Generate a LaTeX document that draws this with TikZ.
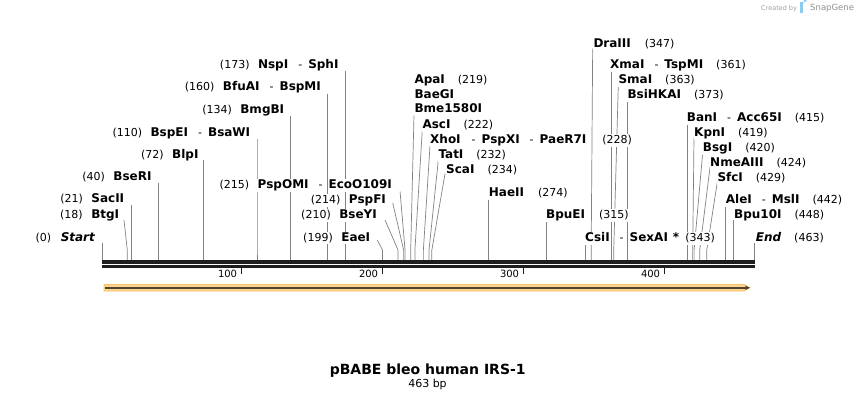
\documentclass[tikz,border=0pt]{standalone}
\usepackage{fontspec}
\setmainfont{DejaVu Sans}[BoldFont=DejaVu Sans Bold,ItalicFont=DejaVu Sans Oblique,BoldItalicFont=DejaVu Sans Bold Oblique]
\usetikzlibrary{arrows.meta}
\definecolor{leadgray}{RGB}{130,130,130}
\definecolor{bbcol}{RGB}{30,30,30}
\definecolor{orfill}{RGB}{252,213,142}
\definecolor{ordraw}{RGB}{246,192,104}
\definecolor{orline}{RGB}{80,66,46}
\definecolor{sgblue}{RGB}{140,203,239}
\definecolor{sggray}{RGB}{160,160,160}
\newcommand\wb[1]{\hspace{-0.6pt}{\setlength\fboxsep{0.6pt}\colorbox{white}{\rule[-2.6pt]{0pt}{11.4pt}#1}}\hspace{-0.6pt}}
\newcommand\pp[1]{\wb{\fontsize{11}{13}\selectfont(#1)}}
\newcommand\nn[1]{\wb{\bfseries #1}}
\newcommand\nmi[1]{\wb{\bfseries\itshape #1}}
\newcommand\dd{\hspace{10pt}\wb{\fontsize{11}{13}\selectfont-}\hspace{6pt}}
\newcommand\ga{\hspace{8.5pt}}
\newcommand\gb{\hspace{13pt}}
\newcommand\site[5]{%
  \coordinate (b#1) at ({101.9+1.41*#2},260);
  \coordinate (k#1) at ({101.9+1.41*#2},#5);
  \coordinate (t#1) at ({101.9+1.41*#2+#3},#4);
  \draw[leader] (t#1) -- (k#1) -- (b#1);}
\tikzset{
  leader/.style={draw=leadgray,line width=0.7pt},
  lbl/.style={inner sep=0pt,font=\fontsize{12}{14}\selectfont},
  ticklbl/.style={inner sep=0pt,font=\fontsize{10}{12}\selectfont},
  tickmark/.style={draw=bbcol,line width=1.6pt},
}
\begin{document}
\begin{tikzpicture}[x=1pt,y=-1pt]
\useasboundingbox (0,0) rectangle (858,400);
% leaders
\site{Start}{0}{0}{243}{250}
\site{BtgI}{18}{-3.3}{220}{250}
\site{SacII}{21}{0}{205}{250}
\site{BseRI}{40}{0}{183}{250}
\site{BlpI}{72}{0}{160}{250}
\site{BspEI}{110}{0}{139}{250}
\site{BmgBI}{134}{0}{116}{250}
\site{BfuAI}{160}{0}{94}{250}
\site{NspI}{173}{0}{71}{250}
\site{EaeI}{199}{-5.2}{240}{250}
\site{BseYI}{210}{-13}{220}{250}
\site{PspFI}{214}{-10.9}{203}{250}
\site{PspOMI}{215}{-5}{191.5}{250}
\site{ApaI}{219}{3.3}{115}{250}
\site{AscI}{222}{7.4}{129.5}{250}
\site{XhoI}{228}{6.6}{146}{250}
\site{TatI}{232}{9.3}{160}{250}
\site{ScaI}{234}{13.2}{173.5}{250}
\site{HaeII}{274}{0}{198}{250}
\site{BpuEI}{315}{0}{221}{250}
\site{CsiI}{343}{0}{243}{250}
\site{DraIII}{347}{1.5}{48.5}{250}
\site{XmaI}{361}{0}{70.5}{250}
\site{SmaI}{363}{4.6}{84}{250}
\site{BsiHKAI}{373}{0}{100}{250}
\site{BanI}{415}{0}{123.5}{250}
\site{KpnI}{419}{1.3}{137.5}{250}
\site{BsgI}{420}{8.6}{152.5}{250}
\site{NmeAIII}{424}{10.3}{167}{250}
\site{SfcI}{429}{10.5}{182}{250}
\site{AleI}{442}{0}{205}{250}
\site{Bpu10I}{448}{0}{220}{250}
\site{End}{463}{0}{243}{250}
% left labels
\node[lbl,anchor=base east] (LStart) at (95.7,241.1) {\pp{0}\hspace{9.5pt}\nmi{Start}};
\node[lbl,anchor=base east] (LBtgI) at (120,218.4) {\pp{18}\ga\nn{BtgI}};
\node[lbl,anchor=base east] (LSacII) at (125,202.9) {\pp{21}\ga\nn{SacII}};
\node[lbl,anchor=base east] (LBseRI) at (152.3,180.9) {\pp{40}\ga\nn{BseRI}};
\node[lbl,anchor=base east] (LBlpI) at (199.3,158.4) {\pp{72}\ga\nn{BlpI}};
\node[lbl,anchor=base east] (LBspEI) at (251,136.4) {\pp{110}\ga\nn{BspEI}\dd\nn{BsaWI}};
\node[lbl,anchor=base east] (LBmgBI) at (285,113.4) {\pp{134}\ga\nn{BmgBI}};
\node[lbl,anchor=base east] (LBfuAI) at (321.7,90.9) {\pp{160}\ga\nn{BfuAI}\dd\nn{BspMI}};
\node[lbl,anchor=base east] (LNspI) at (339.3,68.4) {\pp{173}\ga\nn{NspI}\dd\nn{SphI}};
\node[lbl,anchor=base east] (LPspOMI) at (392.7,188.4) {\pp{215}\ga\nn{PspOMI}\dd\nn{EcoO109I}};
\node[lbl,anchor=base east] (LPspFI) at (386.7,203.4) {\pp{214}\ga\nn{PspFI}};
\node[lbl,anchor=base east] (LBseYI) at (377.7,218.4) {\pp{210}\ga\nn{BseYI}};
\node[lbl,anchor=base east] (LEaeI) at (371,241.1) {\pp{199}\ga\nn{EaeI}};
% right labels
\node[lbl,anchor=base west] (LApaI) at (414.3,83.4) {\nn{ApaI}\gb\pp{219}};
\node[lbl,anchor=base west] (LBaeGI) at (414.3,98.4) {\nn{BaeGI}};
\node[lbl,anchor=base west] (LBme) at (414.3,112.9) {\nn{Bme1580I}};
\node[lbl,anchor=base west] (LAscI) at (422.3,128.4) {\nn{AscI}\gb\pp{222}};
\node[lbl,anchor=base west] (LXhoI) at (430,143.4) {\nn{XhoI}\hspace{1pt}\dd\nn{PspXI}\dd\nn{PaeR7I}\hspace{16pt}\pp{228}};
\node[lbl,anchor=base west] (LTatI) at (438.3,158.4) {\nn{TatI}\gb\pp{232}};
\node[lbl,anchor=base west] (LScaI) at (446,173.4) {\nn{ScaI}\gb\pp{234}};
\node[lbl,anchor=base west] (LHaeII) at (488.7,196.4) {\nn{HaeII}\hspace{14pt}\pp{274}};
\node[lbl,anchor=base west] (LBpuEI) at (546,218.4) {\nn{BpuEI}\hspace{14pt}\pp{315}};
\node[lbl,anchor=base west] (LCsiI) at (585,241.4) {\nn{CsiI}\dd\nn{SexAI}\hspace{5pt}\nn{*}\hspace{6pt}\pp{343}};
\node[lbl,anchor=base west] (LDraIII) at (593.3,47.4) {\nn{DraIII}\hspace{14pt}\pp{347}};
\node[lbl,anchor=base west] (LXmaI) at (610,68.4) {\nn{XmaI}\dd\nn{TspMI}\gb\pp{361}};
\node[lbl,anchor=base west] (LSmaI) at (618.3,83.9) {\nn{SmaI}\gb\pp{363}};
\node[lbl,anchor=base west] (LBsiHKAI) at (627.3,98.4) {\nn{BsiHKAI}\gb\pp{373}};
\node[lbl,anchor=base west] (LBanI) at (686.7,121.9) {\nn{BanI}\dd\nn{Acc65I}\gb\pp{415}};
\node[lbl,anchor=base west] (LKpnI) at (694,136.4) {\nn{KpnI}\gb\pp{419}};
\node[lbl,anchor=base west] (LBsgI) at (702.7,151.4) {\nn{BsgI}\gb\pp{420}};
\node[lbl,anchor=base west] (LNmeAIII) at (710,166.4) {\nn{NmeAIII}\gb\pp{424}};
\node[lbl,anchor=base west] (LSfcI) at (717.3,181.4) {\nn{SfcI}\gb\pp{429}};
\node[lbl,anchor=base west] (LAleI) at (725.7,203.4) {\nn{AleI}\dd\nn{MslI}\gb\pp{442}};
\node[lbl,anchor=base west] (LBpu10I) at (734,218.4) {\nn{Bpu10I}\gb\pp{448}};
\node[lbl,anchor=base west] (LEnd) at (755.7,241.4) {\nmi{End}\gb\pp{463}};
% backbone
\coordinate (bbL) at (101.9,0);
\coordinate (bbR) at (754.7,0);
\draw[bbcol,line width=3.5pt] (bbL|-0,262) -- (bbR|-0,262);
\draw[bbcol,line width=2.5pt] (bbL|-0,266.5) -- (bbR|-0,266.5);
% ticks
\foreach \t/\xx in {100/241.5,200/382.5,300/523.5,400/664.5}{
  \draw[tickmark] (\xx,267) -- (\xx,274);
  \node[ticklbl,anchor=base east] (T\t) at (\xx-4.2,277.3) {\t};
}
% feature arrow
\filldraw[fill=orfill,draw=ordraw,line width=0.6pt] (104,284.5) -- (744,284.5) -- (750,287.75) -- (744,291) -- (104,291) -- cycle;
\draw[orline,line width=1.5pt,-{Stealth[length=5pt,width=4.5pt]}] (105,287.75) -- (750,287.75);
% title
\node[inner sep=0pt,anchor=base,font=\fontsize{14}{16}\bfseries] (title) at (427.7,374.3) {pBABE bleo human IRS-1};
\node[inner sep=0pt,anchor=base,font=\fontsize{11}{13}\selectfont] (len) at (427.5,387) {463 bp};
% created by
\node[inner sep=0pt,anchor=base west,font=\fontsize{6.5}{8}\selectfont,text=sggray] (cb) at (761,10) {Created by};
\fill[sgblue] (800,2) rectangle (802.6,12.7);
\fill[sgblue] (802.6,2) -- (804.5,2) arc[start angle=90,end angle=-90,radius=2.5] -- (802.6,7) -- cycle;
\node[inner sep=0pt,anchor=base west,font=\fontsize{8.5}{10}\selectfont,text=sggray!90!black] (sg) at (810,10.5) {SnapGene};
\end{tikzpicture}
\end{document}
